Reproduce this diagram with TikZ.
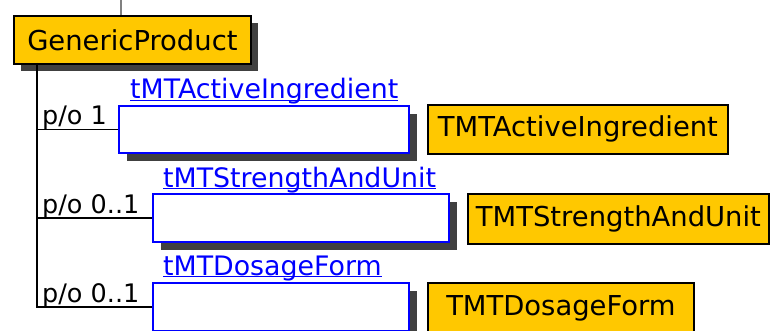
\documentclass[tikz,border=0pt]{standalone}
\usepackage{fontspec}
\setmainfont{DejaVu Sans}
\usetikzlibrary{shadows}
\definecolor{classfill}{RGB}{255,200,0}
\definecolor{linkblue}{RGB}{0,0,255}
\definecolor{shadowgray}{RGB}{64,64,64}
\tikzset{
  classbox/.style={draw=black, line width=1.8pt, fill=classfill, inner sep=0pt,
    anchor=north west, font=\fontsize{27.4}{30}\selectfont},
  classshadow/.style={drop shadow={shadow xshift=7pt, shadow yshift=-7pt,
    fill=shadowgray, opacity=1}},
  slotbox/.style={draw=linkblue, line width=2pt, fill=white, inner sep=0pt,
    anchor=north west, drop shadow={shadow xshift=8pt, shadow yshift=-8pt,
    fill=shadowgray, opacity=1}},
  slotname/.style={text=linkblue, inner sep=0pt, anchor=base west,
    font=\fontsize{26.8}{30}\selectfont},
  cardlabel/.style={inner sep=0pt, anchor=base west, font=\fontsize{25.5}{30}\selectfont},
  link/.style={draw=black, line width=1.5pt},
  underlink/.style={draw=linkblue, line width=1.5pt}
}
\begin{document}
\begin{tikzpicture}[x=1pt,y=-1pt]
\useasboundingbox (0,0) rectangle (770,331);

% owning class
\node[classbox, classshadow, minimum width=237pt, minimum height=48pt] (gp) at (13,15) {GenericProduct};
\coordinate (above) at (121,0);
\draw[draw=gray, line width=1.2pt] (above) -- (above |- gp.north);

% slots
\node[slotbox, minimum width=290pt, minimum height=47pt] (b1) at (118,105) {};
\node[slotbox, minimum width=296pt, minimum height=48pt] (b2) at (152,193) {};
\node[slotbox, minimum width=256pt, minimum height=48pt] (b3) at (152,282) {};

% slot types
\node[classbox, minimum width=300pt, minimum height=49pt] (c1) at (427,104) {TMTActiveIngredient};
\node[classbox, minimum width=301pt, minimum height=50pt] (c2) at (467,193) {TMTStrengthAndUnit};
\node[classbox, minimum width=266pt, minimum height=50pt] (c3) at (427,282) {TMTDosageForm};

% slot names, underlined
\node[slotname] (n1) at ([shift={(12pt,6pt)}]b1.north west) {tMTActiveIngredient};
\node[slotname] (n2) at ([shift={(11pt,6pt)}]b2.north west) {tMTStrengthAndUnit};
\node[slotname] (n3) at ([shift={(11pt,7pt)}]b3.north west) {tMTDosageForm};
\foreach \n in {n1,n2,n3}
  \draw[underlink] ([yshift=-1.5pt]\n.base west) -- ([yshift=-1.5pt]\n.base east);

% tree connectors
\coordinate (trunk) at (37,63);
\draw[link] (trunk) |- (b3.west);
\draw[link] (b1.west -| trunk) -- (b1.west);
\draw[link] (b2.west -| trunk) -- (b2.west);

% cardinalities
\node[cardlabel] (p1) at ([shift={(5pt,5pt)}]b1.west -| trunk) {p/o 1};
\node[cardlabel] (p2) at ([shift={(5pt,5pt)}]b2.west -| trunk) {p/o 0..1};
\node[cardlabel] (p3) at ([shift={(5pt,5pt)}]b3.west -| trunk) {p/o 0..1};
\end{tikzpicture}
\end{document}
